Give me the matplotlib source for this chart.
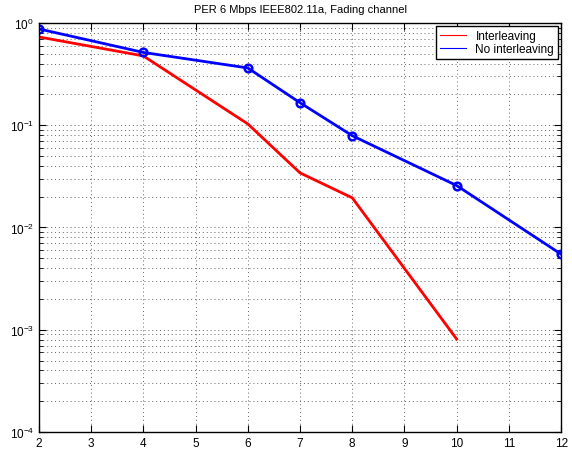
import numpy as np
import matplotlib
matplotlib.use("Agg")
import matplotlib.pyplot as plt
from matplotlib.ticker import LogLocator, NullFormatter

plt.rcParams['font.family'] = ['Liberation Sans', 'DejaVu Sans']
plt.rcParams['mathtext.fontset'] = 'custom'
plt.rcParams['mathtext.rm'] = 'Liberation Sans'

# data
snr_inter = [2, 4, 6, 7, 8, 10]
per_inter = [0.73, 0.476, 0.103, 0.0342, 0.0195, 0.00081]
snr_nointer = [2, 4, 6, 7, 8, 10, 12]
per_nointer = [0.874, 0.515, 0.363, 0.166, 0.079, 0.0257, 0.00548]

title = "PER 6 Mbps IEEE802.11a, Fading channel"
labels = ["Interleaving", "No interleaving"]

fig = plt.figure(figsize=(5.72, 4.52), dpi=100)
ax = fig.add_axes([0.068, 0.042, 0.913, 0.905])

ax.semilogy(snr_inter, per_inter, '-', color='red', lw=2)
ax.semilogy(snr_nointer, per_nointer, '-o', color='blue', lw=2,
            ms=5.5, mfc='none', mew=1.8)

# thin proxy lines for the legend
h1, = ax.plot([], [], color='red', lw=0.8)
h2, = ax.plot([], [], color='blue', lw=0.8)
leg = ax.legend([h1, h2], labels, loc='upper right', fontsize=8.5,
                fancybox=False, framealpha=1, edgecolor='black',
                handlelength=2.2, borderpad=0.3, labelspacing=0.1,
                borderaxespad=0.3)
leg.get_frame().set_linewidth(1.0)

ax.set_xlim(2, 12)
ax.set_ylim(1e-4, 1)
ax.set_xticks(range(2, 13))
ax.yaxis.set_major_locator(LogLocator(base=10))
ax.yaxis.set_minor_locator(LogLocator(base=10, subs=np.arange(2, 10)))
ax.yaxis.set_minor_formatter(NullFormatter())

ax.grid(True, which='major', ls=(0, (1, 3)), color='#666666', lw=0.7)
ax.grid(True, which='minor', axis='y', ls=(0, (1, 3)), color='#666666', lw=0.7)
ax.set_axisbelow(True)
ax.tick_params(which='both', direction='in', top=True, right=True,
               labelsize=8.5)
ax.tick_params(which='major', length=5)
ax.tick_params(which='minor', length=3)
for s in ax.spines.values():
    s.set_linewidth(1.0)

ax.set_title(title, fontsize=8, pad=8)

fig.savefig("out.png", dpi=100)
